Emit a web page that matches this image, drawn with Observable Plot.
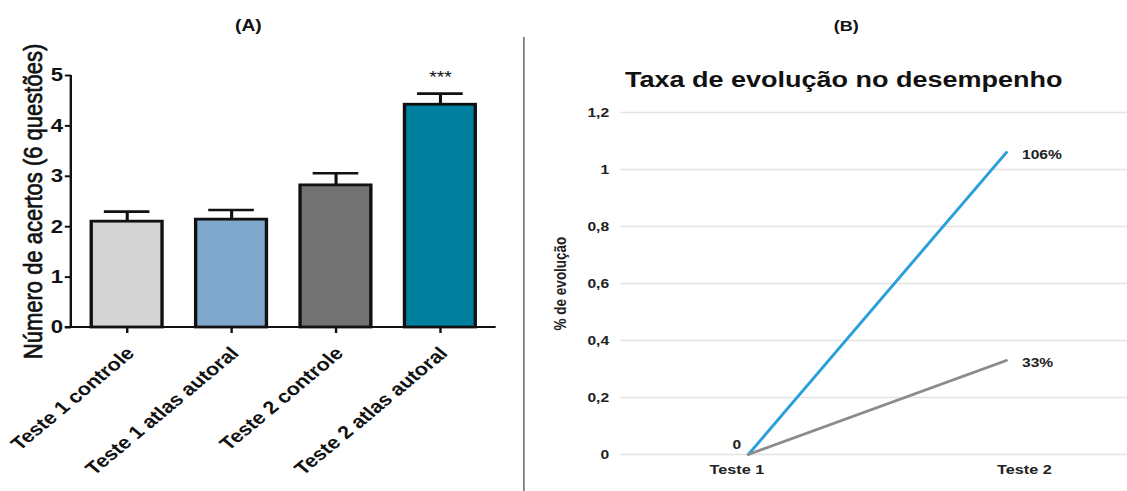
<!DOCTYPE html>
<html><head><meta charset="utf-8">
<script src="https://cdn.jsdelivr.net/npm/d3@7"></script>
<script src="https://cdn.jsdelivr.net/npm/@observablehq/plot@0.6"></script>
<style>
html,body{margin:0;padding:0;background:#fff;overflow:hidden;font-family:"Liberation Sans",Arial,sans-serif;}
#root{position:relative;width:939px;height:491px;overflow:hidden;background:#fff;transform:scaleX(1.2002);transform-origin:0 0}
.abs{position:absolute}
.ttl{position:absolute;font-weight:bold;color:#111;transform:translate(-50%,-50%);white-space:nowrap}
#divider{position:absolute;left:436px;top:37px;width:1.4px;height:454px;background:#444}
</style></head><body>
<div id="root">
 <div id="a" class="abs" style="left:0;top:0"></div>
 <div id="b" class="abs" style="left:440px;top:0"></div>
 <div class="ttl" style="left:207px;top:26px;font-size:16px">(A)</div>
 <div class="ttl" style="left:705px;top:25px;font-size:15px">(B)</div>
 <div class="ttl" style="left:703px;top:80px;font-size:22.5px">Taxa de evolução no desempenho</div>
 <div id="divider"></div>
</div>
<script>
// Panel A data
const categories = ["Teste 1 controle","Teste 1 atlas autoral","Teste 2 controle","Teste 2 atlas autoral"];
const means = [2.10, 2.14, 2.82, 4.42];
const errors = [0.20, 0.19, 0.24, 0.22];
const barColors = ["#d4d4d4","#80a7cc","#727272","#00809f"];
const significance = ["","","","***"];
const yTicksA = [0,1,2,3,4,5];
const yLabelA = "Número de acertos (6 questões)";

// Panel B data
const tests = ["Teste 1","Teste 2"];
const seriesNames = ["atlas autoral","controle"];
const atlasValues = [0, 1.06];
const controleValues = [0, 0.33];
const lineColors = ["#2a9fdc","#8c8c8c"];
const endLabels = ["106%","33%"];
const startLabel = "0";
const yTicksB = [0,0.2,0.4,0.6,0.8,1,1.2];
const yLabelB = "% de evolução";

const font = "Liberation Sans, Arial, sans-serif";

// axis lines drawn from the plot's own dimensions and y scale
function axisLinesA(index, scales, values, dim) {
  const g = d3.create("svg:g").attr("stroke", "#111").attr("stroke-width", 2).attr("fill", "none");
  const x0 = dim.marginLeft, x1 = dim.width - dim.marginRight;
  const yTop = scales.y(yTicksA[yTicksA.length - 1]), yBottom = scales.y(0);
  g.append("line").attr("x1", x0).attr("x2", x0).attr("y1", yTop).attr("y2", yBottom);
  g.append("line").attr("x1", x0 - 5).attr("x2", x1).attr("y1", yBottom).attr("y2", yBottom);
  return g.node();
}

const dataA = categories.map((c,i)=>({cat:c, mean:means[i], top:means[i]+errors[i], color:barColors[i], sig:significance[i]}));
const plotA = Plot.plot({
  width: 436, height: 491,
  marginLeft: 59, marginRight: 23, marginTop: 75, marginBottom: 164,
  style: {fontFamily: font, color: "#111", background: "transparent", overflow: "visible"},
  x: {domain: categories, paddingInner: 0.326, paddingOuter: 0.176, label: null},
  y: {domain: [0,5], label: null},
  marks: [
    Plot.ruleX(dataA, {x:"cat", y1:"mean", y2:"top", stroke:"#111", strokeWidth:2.6}),
    Plot.tickY(dataA, {x:"cat", y:"top", stroke:"#111", strokeWidth:2.6, insetLeft:10.5, insetRight:10.5}),
    Plot.barY(dataA, {x:"cat", y:"mean", fill:"color", stroke:"#111", strokeWidth:2.8}),
    Plot.text(dataA, {x:"cat", y:"top", text:"sig", dy:-16, fontSize:16, fill:"#111"}),
    Plot.axisY({ticks: yTicksA, tickSize:5, tickPadding:2, tickFormat: d => String(d), fontSize:18.5, fontWeight:"bold", strokeWidth:2, label:null}),
    Plot.axisX({tickSize:6, tickFormat: () => "", strokeWidth:2, label:null}),
    axisLinesA,
    Plot.text(categories, {x: d => d, frameAnchor:"bottom", rotate:-45, textAnchor:"end", dx:7, dy:27, fontSize:18, fontWeight:"bold", fill:"#111"}),
    Plot.text([yLabelA], {frameAnchor:"left", rotate:-90, textAnchor:"middle", dx:-31.5, fontSize:22, fill:"#111", stroke:"#111", strokeWidth:0.6})
  ]
});
document.getElementById("a").appendChild(plotA);

const dataB = [];
tests.forEach((t,i)=>{
  dataB.push({test:t, value:atlasValues[i], series:seriesNames[0]});
  dataB.push({test:t, value:controleValues[i], series:seriesNames[1]});
});
const ends = [
  {test:tests[1], value:atlasValues[1], label:endLabels[0]},
  {test:tests[1], value:controleValues[1], label:endLabels[1]}
];
const starts = [{test:tests[0], value:atlasValues[0], label:startLabel}];
const plotB = Plot.plot({
  width: 499, height: 491,
  marginLeft: 77, marginRight: 0, marginTop: 112, marginBottom: 37,
  style: {fontFamily: font, color: "#222", background: "transparent", overflow: "visible"},
  x: {type:"point", domain: tests, range:[182.5, 397.5], padding: 0, label: null},
  y: {domain: [0, 1.2], label: null},
  color: {domain: seriesNames, range: lineColors},
  marks: [
    Plot.ruleY(yTicksB, {stroke:"#e4e4e4", strokeWidth:1.5}),
    Plot.axisY({ticks: yTicksB, tickSize:0, tickPadding:10, tickFormat: d => String(d).replace(".", ","), fontSize:13, fontWeight:"bold", label:null}),
    Plot.axisX({ticks:[tests[0]], tickSize:0, tickPadding:10, dx:-9.5, fontSize:13.5, fontWeight:"bold", label:null}),
    Plot.axisX({ticks:[tests[1]], tickSize:0, tickPadding:10, dx:15, fontSize:13.5, fontWeight:"bold", label:null}),
    Plot.line(dataB, {x:"test", y:"value", z:"series", stroke:"series", strokeWidth:2.6}),
    Plot.text(ends, {x:"test", y:"value", text:"label", textAnchor:"start", dx:13, dy:2, fontSize:13, fontWeight:"bold", fill:"#222"}),
    Plot.text(starts, {x:"test", y:"value", text:"label", dx:-9.5, dy:-10, fontSize:13, fontWeight:"bold", fill:"#222"}),
    Plot.text([yLabelB], {frameAnchor:"left", rotate:-90, textAnchor:"middle", dx:-50, fontSize:13.5, fontWeight:"bold", fill:"#222"})
  ]
});
document.getElementById("b").appendChild(plotB);
</script>
</body></html>
